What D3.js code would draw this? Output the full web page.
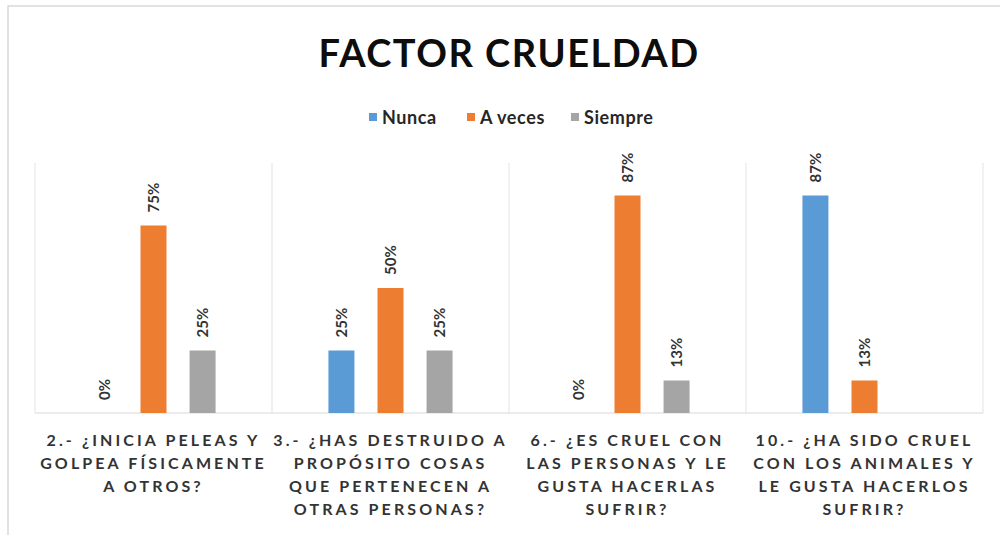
<!DOCTYPE html>
<html>
<head>
<meta charset="utf-8">
<script src="https://cdn.jsdelivr.net/npm/d3@7"></script>
<style>
  body { margin: 0; background: #fff; }
  svg { display: block; }
</style>
</head>
<body>
<svg id="chart" width="1000" height="535"></svg>
<script>
// data
var categories = [
    ["2.- ¿INICIA PELEAS Y", "GOLPEA FÍSICAMENTE", "A OTROS?"],
    ["3.- ¿HAS DESTRUIDO A", "PROPÓSITO COSAS", "QUE PERTENECEN A", "OTRAS PERSONAS?"],
    ["6.- ¿ES CRUEL CON", "LAS PERSONAS Y LE", "GUSTA HACERLAS", "SUFRIR?"],
    ["10.- ¿HA SIDO CRUEL", "CON LOS ANIMALES Y", "LE GUSTA HACERLOS", "SUFRIR?"]
];
var series = ["Nunca", "A veces", "Siempre"];
var nunca = [0, 0.25, 0, 0.87];
var aveces = [0.75, 0.50, 0.87, 0.13];
var siempre = [0.25, 0.25, 0.13, null];
var colors = ["#5B9BD5", "#ED7D31", "#A5A5A5"];

var values = [nunca, aveces, siempre];
var svg = d3.select("#chart");
var margin = {top: 163, left: 35, right: 17, bottom: 122};
var width = 1000 - margin.left - margin.right;
var height = 535 - margin.top - margin.bottom;
var font = "Lato, 'Open Sans', sans-serif";

// chart border
svg.append("rect")
    .attr("x", 8).attr("y", 6)
    .attr("width", 1010).attr("height", 540)
    .attr("fill", "none")
    .attr("stroke", "#d9d9d9")
    .attr("stroke-width", 1.5);

svg.append("text")
    .text("FACTOR CRUELDAD")
    .attr("x", 509).attr("y", 67)
    .attr("text-anchor", "middle")
    .style("font-family", font)
    .style("font-weight", "bold")
    .style("font-size", "38px")
    .style("letter-spacing", "1.5px")
    .attr("fill", "#0d0d0d");

// legend
var legendX = [369, 467, 571];
var legend = svg.append("g");
series.forEach(function (s, i) {
    legend.append("rect")
        .attr("x", legendX[i]).attr("y", 113)
        .attr("width", 8).attr("height", 8)
        .attr("fill", colors[i]);
    legend.append("text")
        .text(s)
        .attr("x", legendX[i] + 13).attr("y", 124)
        .style("font-family", font)
        .style("font-weight", "bold")
        .style("font-size", "18px")
        .style("letter-spacing", "0.6px")
        .attr("fill", "#262626");
});

var g = svg.append("g")
    .attr("transform", "translate(" + margin.left + "," + margin.top + ")");

var x0 = d3.scaleBand()
    .domain(d3.range(categories.length))
    .range([0, width]);

var x1 = d3.scaleBand()
    .domain(series)
    .range([0, x0.bandwidth()])
    .paddingInner(0.47)
    .paddingOuter(1.15);

var y = d3.scaleLinear()
    .domain([0, 1])
    .range([height, 0]);

// category separators
g.selectAll("line.sep")
    .data(d3.range(categories.length + 1))
    .enter()
    .append("line")
    .attr("class", "sep")
    .attr("x1", function (d) { return d * x0.step(); })
    .attr("x2", function (d) { return d * x0.step(); })
    .attr("y1", 0)
    .attr("y2", height)
    .attr("stroke", "#e3e3e3")
    .attr("stroke-width", 1);

g.append("line")
    .attr("x1", 0).attr("x2", width)
    .attr("y1", height).attr("y2", height)
    .attr("stroke", "#d9d9d9")
    .attr("stroke-width", 1);

var groups = g.selectAll("g.cat")
    .data(categories)
    .enter()
    .append("g")
    .attr("class", "cat")
    .attr("transform", function (d, i) {
        return "translate(" + x0(i) + ",0)";
    });

groups.each(function (d, i) {
    var grp = d3.select(this);
    series.forEach(function (s, k) {
        var v = values[k][i];
        if (v === null) return;
        grp.append("rect")
            .attr("x", x1(s))
            .attr("y", y(v))
            .attr("width", x1.bandwidth())
            .attr("height", height - y(v))
            .attr("fill", colors[k]);
        var lx = x1(s) + x1.bandwidth() / 2;
        var ly = y(v) - 13;
        grp.append("text")
            .text(Math.round(v * 100) + "%")
            .attr("transform", "translate(" + lx + "," + ly + ") rotate(-90)")
            .attr("dy", "0.35em")
            .style("font-family", font)
            .style("font-weight", "bold")
            .style("font-size", "15px")
            .attr("fill", "#333");
    });

    // category label
    var t = grp.append("text")
        .attr("x", x0.bandwidth() / 2)
        .attr("y", height + 33)
        .attr("text-anchor", "middle")
        .style("font-family", font)
        .style("font-weight", "bold")
        .style("font-size", "16px")
        .style("letter-spacing", "3.1px")
        .attr("fill", "#333");
    d.forEach(function (line, j) {
        t.append("tspan")
            .attr("x", x0.bandwidth() / 2)
            .attr("dy", j === 0 ? 0 : 23)
            .text(line);
    });
});
</script>
</body>
</html>
